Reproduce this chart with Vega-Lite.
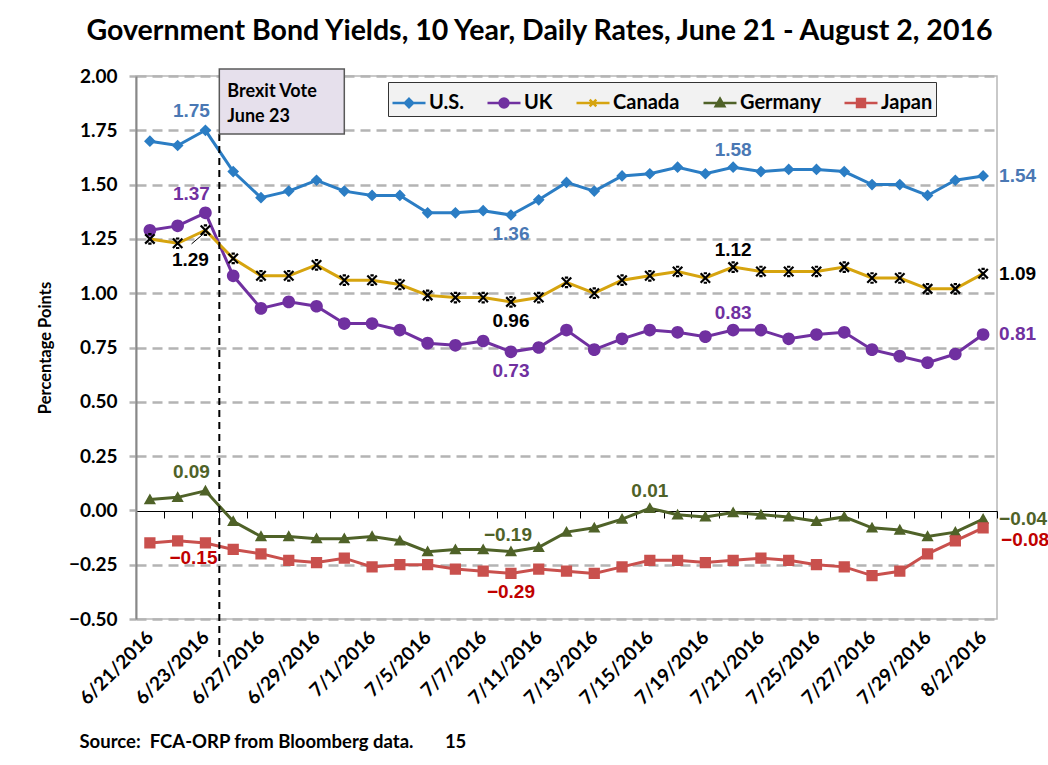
{
  "$schema": "https://vega.github.io/schema/vega-lite/v6.json",
  "width": 861,
  "height": 543,
  "autosize": {"type": "none"},
  "padding": {"left": 136, "top": 76, "right": 51, "bottom": 146},
  "background": "white",
  "config": {"view": {"stroke": "#b8b8b8", "strokeWidth": 1.5}},
  "title": {"text": "Government Bond Yields, 10 Year, Daily Rates, June 21 - August 2, 2016", "font": "Lato", "fontSize": 28.5, "fontWeight": "bold", "color": "#000", "anchor": "middle", "dx": -27, "offset": -1, "baseline": "alphabetic"},
  "datasets": {
    "yields": [
      {"d":"6/21/2016","c":"U.S.","v":1.70},{"d":"6/21/2016","c":"UK","v":1.29},{"d":"6/21/2016","c":"Canada","v":1.25},{"d":"6/21/2016","c":"Germany","v":0.05},{"d":"6/21/2016","c":"Japan","v":-0.15},
      {"d":"6/22/2016","c":"U.S.","v":1.68},{"d":"6/22/2016","c":"UK","v":1.31},{"d":"6/22/2016","c":"Canada","v":1.23},{"d":"6/22/2016","c":"Germany","v":0.06},{"d":"6/22/2016","c":"Japan","v":-0.14},
      {"d":"6/23/2016","c":"U.S.","v":1.75},{"d":"6/23/2016","c":"UK","v":1.37},{"d":"6/23/2016","c":"Canada","v":1.29},{"d":"6/23/2016","c":"Germany","v":0.09},{"d":"6/23/2016","c":"Japan","v":-0.15},
      {"d":"6/24/2016","c":"U.S.","v":1.56},{"d":"6/24/2016","c":"UK","v":1.08},{"d":"6/24/2016","c":"Canada","v":1.16},{"d":"6/24/2016","c":"Germany","v":-0.05},{"d":"6/24/2016","c":"Japan","v":-0.18},
      {"d":"6/27/2016","c":"U.S.","v":1.44},{"d":"6/27/2016","c":"UK","v":0.93},{"d":"6/27/2016","c":"Canada","v":1.08},{"d":"6/27/2016","c":"Germany","v":-0.12},{"d":"6/27/2016","c":"Japan","v":-0.20},
      {"d":"6/28/2016","c":"U.S.","v":1.47},{"d":"6/28/2016","c":"UK","v":0.96},{"d":"6/28/2016","c":"Canada","v":1.08},{"d":"6/28/2016","c":"Germany","v":-0.12},{"d":"6/28/2016","c":"Japan","v":-0.23},
      {"d":"6/29/2016","c":"U.S.","v":1.52},{"d":"6/29/2016","c":"UK","v":0.94},{"d":"6/29/2016","c":"Canada","v":1.13},{"d":"6/29/2016","c":"Germany","v":-0.13},{"d":"6/29/2016","c":"Japan","v":-0.24},
      {"d":"6/30/2016","c":"U.S.","v":1.47},{"d":"6/30/2016","c":"UK","v":0.86},{"d":"6/30/2016","c":"Canada","v":1.06},{"d":"6/30/2016","c":"Germany","v":-0.13},{"d":"6/30/2016","c":"Japan","v":-0.22},
      {"d":"7/1/2016","c":"U.S.","v":1.45},{"d":"7/1/2016","c":"UK","v":0.86},{"d":"7/1/2016","c":"Canada","v":1.06},{"d":"7/1/2016","c":"Germany","v":-0.12},{"d":"7/1/2016","c":"Japan","v":-0.26},
      {"d":"7/4/2016","c":"U.S.","v":1.45},{"d":"7/4/2016","c":"UK","v":0.83},{"d":"7/4/2016","c":"Canada","v":1.04},{"d":"7/4/2016","c":"Germany","v":-0.14},{"d":"7/4/2016","c":"Japan","v":-0.25},
      {"d":"7/5/2016","c":"U.S.","v":1.37},{"d":"7/5/2016","c":"UK","v":0.77},{"d":"7/5/2016","c":"Canada","v":0.99},{"d":"7/5/2016","c":"Germany","v":-0.19},{"d":"7/5/2016","c":"Japan","v":-0.25},
      {"d":"7/6/2016","c":"U.S.","v":1.37},{"d":"7/6/2016","c":"UK","v":0.76},{"d":"7/6/2016","c":"Canada","v":0.98},{"d":"7/6/2016","c":"Germany","v":-0.18},{"d":"7/6/2016","c":"Japan","v":-0.27},
      {"d":"7/7/2016","c":"U.S.","v":1.38},{"d":"7/7/2016","c":"UK","v":0.78},{"d":"7/7/2016","c":"Canada","v":0.98},{"d":"7/7/2016","c":"Germany","v":-0.18},{"d":"7/7/2016","c":"Japan","v":-0.28},
      {"d":"7/8/2016","c":"U.S.","v":1.36},{"d":"7/8/2016","c":"UK","v":0.73},{"d":"7/8/2016","c":"Canada","v":0.96},{"d":"7/8/2016","c":"Germany","v":-0.19},{"d":"7/8/2016","c":"Japan","v":-0.29},
      {"d":"7/11/2016","c":"U.S.","v":1.43},{"d":"7/11/2016","c":"UK","v":0.75},{"d":"7/11/2016","c":"Canada","v":0.98},{"d":"7/11/2016","c":"Germany","v":-0.17},{"d":"7/11/2016","c":"Japan","v":-0.27},
      {"d":"7/12/2016","c":"U.S.","v":1.51},{"d":"7/12/2016","c":"UK","v":0.83},{"d":"7/12/2016","c":"Canada","v":1.05},{"d":"7/12/2016","c":"Germany","v":-0.10},{"d":"7/12/2016","c":"Japan","v":-0.28},
      {"d":"7/13/2016","c":"U.S.","v":1.47},{"d":"7/13/2016","c":"UK","v":0.74},{"d":"7/13/2016","c":"Canada","v":1.00},{"d":"7/13/2016","c":"Germany","v":-0.08},{"d":"7/13/2016","c":"Japan","v":-0.29},
      {"d":"7/14/2016","c":"U.S.","v":1.54},{"d":"7/14/2016","c":"UK","v":0.79},{"d":"7/14/2016","c":"Canada","v":1.06},{"d":"7/14/2016","c":"Germany","v":-0.04},{"d":"7/14/2016","c":"Japan","v":-0.26},
      {"d":"7/15/2016","c":"U.S.","v":1.55},{"d":"7/15/2016","c":"UK","v":0.83},{"d":"7/15/2016","c":"Canada","v":1.08},{"d":"7/15/2016","c":"Germany","v":0.01},{"d":"7/15/2016","c":"Japan","v":-0.23},
      {"d":"7/18/2016","c":"U.S.","v":1.58},{"d":"7/18/2016","c":"UK","v":0.82},{"d":"7/18/2016","c":"Canada","v":1.10},{"d":"7/18/2016","c":"Germany","v":-0.02},{"d":"7/18/2016","c":"Japan","v":-0.23},
      {"d":"7/19/2016","c":"U.S.","v":1.55},{"d":"7/19/2016","c":"UK","v":0.80},{"d":"7/19/2016","c":"Canada","v":1.07},{"d":"7/19/2016","c":"Germany","v":-0.03},{"d":"7/19/2016","c":"Japan","v":-0.24},
      {"d":"7/20/2016","c":"U.S.","v":1.58},{"d":"7/20/2016","c":"UK","v":0.83},{"d":"7/20/2016","c":"Canada","v":1.12},{"d":"7/20/2016","c":"Germany","v":-0.01},{"d":"7/20/2016","c":"Japan","v":-0.23},
      {"d":"7/21/2016","c":"U.S.","v":1.56},{"d":"7/21/2016","c":"UK","v":0.83},{"d":"7/21/2016","c":"Canada","v":1.10},{"d":"7/21/2016","c":"Germany","v":-0.02},{"d":"7/21/2016","c":"Japan","v":-0.22},
      {"d":"7/22/2016","c":"U.S.","v":1.57},{"d":"7/22/2016","c":"UK","v":0.79},{"d":"7/22/2016","c":"Canada","v":1.10},{"d":"7/22/2016","c":"Germany","v":-0.03},{"d":"7/22/2016","c":"Japan","v":-0.23},
      {"d":"7/25/2016","c":"U.S.","v":1.57},{"d":"7/25/2016","c":"UK","v":0.81},{"d":"7/25/2016","c":"Canada","v":1.10},{"d":"7/25/2016","c":"Germany","v":-0.05},{"d":"7/25/2016","c":"Japan","v":-0.25},
      {"d":"7/26/2016","c":"U.S.","v":1.56},{"d":"7/26/2016","c":"UK","v":0.82},{"d":"7/26/2016","c":"Canada","v":1.12},{"d":"7/26/2016","c":"Germany","v":-0.03},{"d":"7/26/2016","c":"Japan","v":-0.26},
      {"d":"7/27/2016","c":"U.S.","v":1.50},{"d":"7/27/2016","c":"UK","v":0.74},{"d":"7/27/2016","c":"Canada","v":1.07},{"d":"7/27/2016","c":"Germany","v":-0.08},{"d":"7/27/2016","c":"Japan","v":-0.30},
      {"d":"7/28/2016","c":"U.S.","v":1.50},{"d":"7/28/2016","c":"UK","v":0.71},{"d":"7/28/2016","c":"Canada","v":1.07},{"d":"7/28/2016","c":"Germany","v":-0.09},{"d":"7/28/2016","c":"Japan","v":-0.28},
      {"d":"7/29/2016","c":"U.S.","v":1.45},{"d":"7/29/2016","c":"UK","v":0.68},{"d":"7/29/2016","c":"Canada","v":1.02},{"d":"7/29/2016","c":"Germany","v":-0.12},{"d":"7/29/2016","c":"Japan","v":-0.20},
      {"d":"8/1/2016","c":"U.S.","v":1.52},{"d":"8/1/2016","c":"UK","v":0.72},{"d":"8/1/2016","c":"Canada","v":1.02},{"d":"8/1/2016","c":"Germany","v":-0.10},{"d":"8/1/2016","c":"Japan","v":-0.14},
      {"d":"8/2/2016","c":"U.S.","v":1.54},{"d":"8/2/2016","c":"UK","v":0.81},{"d":"8/2/2016","c":"Canada","v":1.09},{"d":"8/2/2016","c":"Germany","v":-0.04},{"d":"8/2/2016","c":"Japan","v":-0.08}
    ]
  },
  "data": {"name": "yields"},
  "layer": [
    {
      "mark": {"type": "line", "strokeWidth": 3},
      "encoding": {
        "x": {"field": "d", "type": "ordinal", "sort": null,
          "scale": {"type": "band", "paddingInner": 0, "paddingOuter": 0,
            "domain": ["6/21/2016","6/22/2016","6/23/2016","6/24/2016","6/27/2016","6/28/2016","6/29/2016","6/30/2016","7/1/2016","7/4/2016","7/5/2016","7/6/2016","7/7/2016","7/8/2016","7/11/2016","7/12/2016","7/13/2016","7/14/2016","7/15/2016","7/18/2016","7/19/2016","7/20/2016","7/21/2016","7/22/2016","7/25/2016","7/26/2016","7/27/2016","7/28/2016","7/29/2016","8/1/2016","8/2/2016"]},
          "axis": {"orient": "bottom", "offset": -108, "grid": false, "domainColor": "#000", "domainWidth": 1, "ticks": true, "tickBand": "extent", "tickColor": "#000", "tickSize": 7, "tickWidth": 1,
            "labelAngle": -45, "labelAlign": "right", "labelBaseline": "middle", "labelPadding": 116, "labelFont": "Lato", "labelFontWeight": "bold", "labelFontSize": 19, "labelColor": "#000", "labelOverlap": false,
            "labelExpr": "indexof(['6/21/2016','6/23/2016','6/27/2016','6/29/2016','7/1/2016','7/5/2016','7/7/2016','7/11/2016','7/13/2016','7/15/2016','7/19/2016','7/21/2016','7/25/2016','7/27/2016','7/29/2016','8/2/2016'], datum.value) >= 0 ? datum.value : ''",
            "title": "Source:\u00a0\u00a0FCA-ORP from Bloomberg data.\u00a0\u00a0\u00a0\u00a0\u00a0\u00a0\u00a015", "titleFont": "Lato", "titleFontSize": 18.5, "titleFontWeight": "bold", "titleColor": "#000", "titleAlign": "left", "titleAnchor": null, "titleX": -57, "titleY": 236, "titleBaseline": "alphabetic"}},
        "y": {"field": "v", "type": "quantitative",
          "scale": {"domain": [-0.5, 2], "nice": false, "zero": false},
          "axis": {"values": [-0.5,-0.25,0,0.25,0.5,0.75,1,1.25,1.5,1.75,2], "format": ".2f", "labelFont": "Lato", "labelFontWeight": "bold", "labelFontSize": 19, "labelColor": "#000", "labelPadding": 12,
            "domainColor": "#888", "domainWidth": 2, "tickColor": "#b4b4b4", "tickSize": 7, "tickWidth": 2.5,
            "grid": true, "gridColor": "#b4b4b4", "gridDash": [10, 6], "gridWidth": 2.5,
            "gridOpacity": {"condition": {"test": "datum.value === 0", "value": 0}, "value": 1},
            "title": "Percentage Points", "titleFont": "Lato", "titleFontSize": 16.5, "titleFontWeight": "bold", "titleColor": "#000", "titlePadding": 15}},
        "color": {"field": "c", "type": "nominal",
          "scale": {"domain": ["U.S.", "UK", "Canada", "Germany", "Japan"], "range": ["#2b7dc4", "#7030a0", "#d6a40f", "#4f6228", "#c9504d"]},
          "legend": {"orient": "none", "legendX": 252, "legendY": 6, "direction": "horizontal", "title": null,
            "fillColor": "#f2f2f2", "strokeColor": "#333", "padding": 3, "columnPadding": 18,
            "symbolSize": 1089, "symbolStrokeWidth": 2.5, "symbolOpacity": 1, "labelOffset": 2,
            "labelFont": "Lato", "labelFontSize": 20, "labelFontWeight": "bold", "labelColor": "#000",
            "encode": {"symbols": {"update": {"stroke": {"scale": "color", "field": "value"}, "strokeWidth": {"value": 2.5}}}}}}
      }
    },
    {
      "transform": [{"filter": "datum.c !== 'Canada'"}],
      "mark": {"type": "point", "filled": true, "size": 2200, "strokeWidth": 0, "opacity": 1},
      "encoding": {
        "x": {"field": "d", "type": "ordinal"},
        "y": {"field": "v", "type": "quantitative"},
        "color": {"field": "c", "type": "nominal",
          "legend": {"orient": "none", "legendX": 252, "legendY": 6, "direction": "horizontal", "title": null,
            "fillColor": "#f2f2f2", "strokeColor": "#333", "padding": 3, "columnPadding": 18,
            "symbolSize": 1089, "symbolStrokeWidth": 2.5, "symbolOpacity": 1, "labelOffset": 2,
            "labelFont": "Lato", "labelFontSize": 20, "labelFontWeight": "bold", "labelColor": "#000",
            "encode": {"symbols": {"update": {"stroke": {"scale": "color", "field": "value"}, "strokeWidth": {"value": 2.5}}}}}},
        "shape": {"field": "c", "type": "nominal",
          "scale": {"domain": ["U.S.", "UK", "Canada", "Germany", "Japan"],
            "range": [
              "M-1,0H1M0,-0.25L0.25,0L0,0.25L-0.25,0Z",
              "M-1,0H1M-0.27,0A0.27,0.27,0,1,0,0.27,0A0.27,0.27,0,1,0,-0.27,0Z",
              "M-1,0H1M-0.2,-0.2L0.2,0.2M-0.2,0.2L0.2,-0.2",
              "M-1,0H1M0,-0.26L0.26,0.2L-0.26,0.2Z",
              "M-1,0H1M-0.24,-0.24H0.24V0.24H-0.24Z"
            ]}}
      }
    },
    {
      "transform": [{"filter": "datum.c === 'Canada'"}],
      "mark": {"type": "point", "filled": false, "shape": "M-1,-1L1,1M-1,1L1,-1M-0.35,-1H0.35M-0.35,1H0.35", "size": 90, "color": "#000", "strokeWidth": 2.2, "opacity": 1},
      "encoding": {
        "x": {"field": "d", "type": "ordinal"},
        "y": {"field": "v", "type": "quantitative"}
      }
    },
    {
      "transform": [{"filter": "datum.d === '6/23/2016' && (datum.c === 'U.S.' || datum.c === 'UK' || datum.c === 'Germany')"}],
      "mark": {"type": "text", "font": "Liberation Sans", "fontSize": 19, "fontWeight": "bold", "dx": -14, "dy": -19, "baseline": "middle"},
      "encoding": {
        "x": {"field": "d", "type": "ordinal"},
        "y": {"field": "v", "type": "quantitative"},
        "text": {"field": "v", "type": "quantitative", "format": ".2f"},
        "fill": {"field": "c", "type": "nominal", "legend": null,
          "scale": {"domain": ["U.S.", "UK", "Canada", "Germany", "Japan"], "range": ["#4a78b4", "#7030a0", "#000000", "#4f6228", "#c00000"]}}
      }
    },
    {
      "transform": [{"filter": "datum.d === '6/23/2016' && datum.c === 'Japan'"}],
      "mark": {"type": "text", "font": "Liberation Sans", "fontSize": 19, "fontWeight": "bold", "dx": -12, "dy": 15, "baseline": "middle"},
      "encoding": {
        "x": {"field": "d", "type": "ordinal"},
        "y": {"field": "v", "type": "quantitative"},
        "text": {"field": "v", "type": "quantitative", "format": ".2f"},
        "fill": {"field": "c", "type": "nominal", "legend": null}
      }
    },
    {
      "transform": [{"filter": "datum.d === '6/23/2016' && datum.c === 'Canada'"}],
      "mark": {"type": "text", "font": "Liberation Sans", "fontSize": 19, "fontWeight": "bold", "dx": -15, "dy": 30, "baseline": "middle"},
      "encoding": {
        "x": {"field": "d", "type": "ordinal"},
        "y": {"field": "v", "type": "quantitative"},
        "text": {"field": "v", "type": "quantitative", "format": ".2f"},
        "fill": {"field": "c", "type": "nominal", "legend": null}
      }
    },
    {
      "transform": [{"filter": "datum.d === '7/8/2016' && datum.c !== 'Germany'"}],
      "mark": {"type": "text", "font": "Liberation Sans", "fontSize": 19, "fontWeight": "bold", "dy": 19, "baseline": "middle"},
      "encoding": {
        "x": {"field": "d", "type": "ordinal"},
        "y": {"field": "v", "type": "quantitative"},
        "text": {"field": "v", "type": "quantitative", "format": ".2f"},
        "fill": {"field": "c", "type": "nominal", "legend": null}
      }
    },
    {
      "transform": [{"filter": "datum.d === '7/8/2016' && datum.c === 'Germany'"}],
      "mark": {"type": "text", "font": "Liberation Sans", "fontSize": 19, "fontWeight": "bold", "dx": -3, "dy": -17, "baseline": "middle"},
      "encoding": {
        "x": {"field": "d", "type": "ordinal"},
        "y": {"field": "v", "type": "quantitative"},
        "text": {"field": "v", "type": "quantitative", "format": ".2f"},
        "fill": {"field": "c", "type": "nominal", "legend": null}
      }
    },
    {
      "transform": [{"filter": "(datum.d === '7/20/2016' && (datum.c === 'U.S.' || datum.c === 'UK' || datum.c === 'Canada')) || (datum.d === '7/15/2016' && datum.c === 'Germany')"}],
      "mark": {"type": "text", "font": "Liberation Sans", "fontSize": 19, "fontWeight": "bold", "dy": -17, "baseline": "middle"},
      "encoding": {
        "x": {"field": "d", "type": "ordinal"},
        "y": {"field": "v", "type": "quantitative"},
        "text": {"field": "v", "type": "quantitative", "format": ".2f"},
        "fill": {"field": "c", "type": "nominal", "legend": null}
      }
    },
    {
      "transform": [{"filter": "datum.d === '8/2/2016' && datum.c !== 'Japan'"}],
      "mark": {"type": "text", "font": "Liberation Sans", "fontSize": 19, "fontWeight": "bold", "dx": 16, "align": "left", "baseline": "middle"},
      "encoding": {
        "x": {"field": "d", "type": "ordinal"},
        "y": {"field": "v", "type": "quantitative"},
        "text": {"field": "v", "type": "quantitative", "format": ".2f"},
        "fill": {"field": "c", "type": "nominal", "legend": null}
      }
    },
    {
      "transform": [{"filter": "datum.d === '8/2/2016' && datum.c === 'Japan'"}],
      "mark": {"type": "text", "font": "Liberation Sans", "fontSize": 19, "fontWeight": "bold", "dx": 18, "dy": 12, "align": "left", "baseline": "middle"},
      "encoding": {
        "x": {"field": "d", "type": "ordinal"},
        "y": {"field": "v", "type": "quantitative"},
        "text": {"field": "v", "type": "quantitative", "format": ".2f"},
        "fill": {"field": "c", "type": "nominal", "legend": null}
      }
    },
    {
      "data": {"values": [{}]},
      "mark": {"type": "rule", "color": "#000", "strokeWidth": 1},
      "encoding": {
        "x": {"datum": "6/23/2016", "bandPosition": 0},
        "x2": {"datum": "6/23/2016", "bandPosition": 0.5},
        "y": {"datum": 1.227},
        "y2": {"datum": 1.281}
      }
    },
    {
      "data": {"values": [{}]},
      "mark": {"type": "rule", "color": "#000", "strokeWidth": 2, "strokeDash": [7, 5]},
      "encoding": {
        "x": {"datum": "6/24/2016", "bandPosition": 0},
        "y": {"datum": 1.733},
        "y2": {"datum": -0.69}
      }
    },
    {
      "data": {"values": [{}]},
      "mark": {"type": "rect", "fill": "#e6e0ec", "stroke": "#595959", "strokeWidth": 1.5},
      "encoding": {
        "x": {"datum": "6/24/2016", "bandPosition": 0},
        "x2": {"datum": "6/30/2016", "bandPosition": 0.5},
        "y": {"datum": 2.032},
        "y2": {"datum": 1.733}
      }
    },
    {
      "data": {"values": [{}]},
      "mark": {"type": "text", "text": ["Brexit Vote", "June 23"], "font": "Lato", "fontSize": 18, "fontWeight": "bold", "color": "#000", "align": "left", "baseline": "alphabetic", "dx": 8, "lineHeight": 25},
      "encoding": {
        "x": {"datum": "6/24/2016", "bandPosition": 0},
        "y": {"datum": 1.903}
      }
    }
  ]
}
